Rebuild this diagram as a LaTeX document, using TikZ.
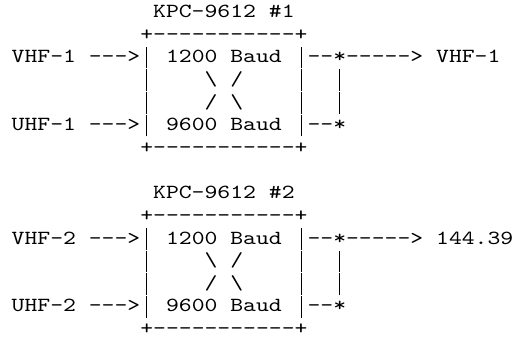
\documentclass[tikz,border=0pt]{standalone}
\usepackage{fontspec}
\usepackage{tikz}
\newfontfamily\asciifont{lmmono10-regular.otf}[FakeStretch=1.225]
% one column wide bar, as tall as a text line
\newcommand{\vb}{\makebox[12.86pt]{\rule[-5.7pt]{0.8pt}{21.7pt}}}
\tikzset{
    every node/.style={inner sep=0pt, outer sep=0pt, anchor=base west,
      font=\asciifont\fontsize{20pt}{22.65pt}\selectfont}
}

\begin{document}
\begin{tikzpicture}[x=12.86pt, y=-22.65pt]
  \useasboundingbox (-11.7pt,17.5pt) rectangle (504.3pt,-319.5pt);

  % first TNC
  \node (kpc1) at (11,0) {KPC-9612 \#1};
  \node (top1) at (10,1) {+-----------+};
  \node (vhf1) at (0,2) {VHF-1 --->\vb{} 1200 Baud \vb{}--*-----> VHF-1};
  \node (la1) at (10,3) {\vb};
  \node (xa1) at (15,3) {\textbackslash{} /};
  \node (ra1) at (22,3) {\vb};
  \node (ja1) at (25,3) {\vb};
  \node (lb1) at (10,4) {\vb};
  \node (xb1) at (15,4) {/ \textbackslash};
  \node (rb1) at (22,4) {\vb};
  \node (jb1) at (25,4) {\vb};
  \node (uhf1) at (0,5) {UHF-1 --->\vb{} 9600 Baud \vb{}--*};
  \node (bot1) at (10,6) {+-----------+};

  % second TNC
  \node (kpc2) at (11,8) {KPC-9612 \#2};
  \node (top2) at (10,9) {+-----------+};
  \node (vhf2) at (0,10) {VHF-2 --->\vb{} 1200 Baud \vb{}--*-----> 144.39};
  \node (la2) at (10,11) {\vb};
  \node (xa2) at (15,11) {\textbackslash{} /};
  \node (ra2) at (22,11) {\vb};
  \node (ja2) at (25,11) {\vb};
  \node (lb2) at (10,12) {\vb};
  \node (xb2) at (15,12) {/ \textbackslash};
  \node (rb2) at (22,12) {\vb};
  \node (jb2) at (25,12) {\vb};
  \node (uhf2) at (0,13) {UHF-2 --->\vb{} 9600 Baud \vb{}--*};
  \node (bot2) at (10,14) {+-----------+};

\end{tikzpicture}
\end{document}
